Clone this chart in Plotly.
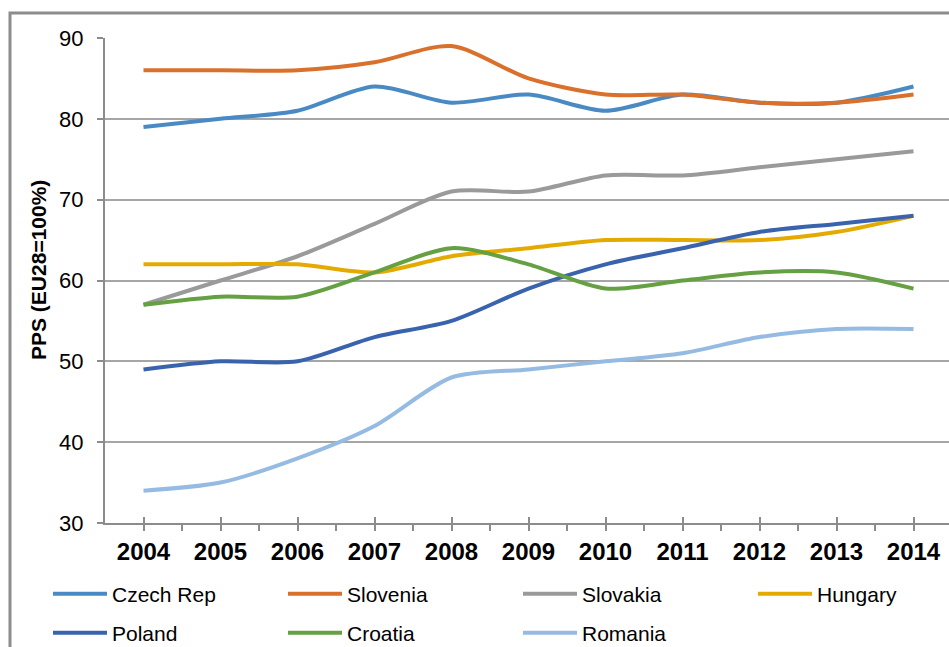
import plotly.graph_objects as go

years = [2004, 2005, 2006, 2007, 2008, 2009, 2010, 2011, 2012, 2013, 2014]
czech_rep = [79, 80, 81, 84, 82, 83, 81, 83, 82, 82, 84]
slovenia = [86, 86, 86, 87, 89, 85, 83, 83, 82, 82, 83]
slovakia = [57, 60, 63, 67, 71, 71, 73, 73, 74, 75, 76]
hungary = [62, 62, 62, 61, 63, 64, 65, 65, 65, 66, 68]
poland = [49, 50, 50, 53, 55, 59, 62, 64, 66, 67, 68]
croatia = [57, 58, 58, 61, 64, 62, 59, 60, 61, 61, 59]
romania = [34, 35, 38, 42, 48, 49, 50, 51, 53, 54, 54]

series = [
    ("Czech Rep", czech_rep, "#4a8ac4", "legend"),
    ("Slovenia", slovenia, "#d9702c", "legend"),
    ("Slovakia", slovakia, "#9a9a9a", "legend"),
    ("Hungary", hungary, "#e5aa00", "legend"),
    ("Poland", poland, "#3a63ae", "legend2"),
    ("Croatia", croatia, "#65a043", "legend2"),
    ("Romania", romania, "#96bbe2", "legend2"),
]

W, H = 949, 647
L, R, T, B = 105, 0, 38, 124
pw = W - L - R
ph = H - T - B

fig = go.Figure()
for name, vals, col, lg in series:
    fig.add_trace(go.Scatter(
        x=years, y=vals, name=name, mode="lines",
        line=dict(color=col, width=4, shape="spline", smoothing=0.8),
        legend=lg,
    ))

font_family = "Liberation Sans, Arial, sans-serif"
x0 = 2003.5
x1 = x0 + pw / 77.0


def px_x(px):
    return (px - L) / pw


def px_y(py):
    return (H - B - py) / ph


legend_common = dict(
    orientation="h", xanchor="left", yanchor="middle",
    entrywidth=166, entrywidthmode="pixels", itemwidth=54,
    font=dict(size=21, family=font_family, color="black"),
    bgcolor="rgba(0,0,0,0)", traceorder="normal",
)

fig.update_layout(
    width=W, height=H,
    margin=dict(l=L, r=R, t=T, b=B, pad=0, autoexpand=False),
    paper_bgcolor="white", plot_bgcolor="white",
    font=dict(family=font_family, color="black"),
    hovermode=False,
    xaxis=dict(
        range=[x0, x1], tickmode="array", tickvals=years, ticktext=[str(y) for y in years],
        showgrid=False, zeroline=False,
        showline=True, linecolor="#8c8c8c", linewidth=2,
        ticks="inside", ticklen=6, tickcolor="#8c8c8c", tickwidth=1.5,
        minor=dict(tick0=2003.5, dtick=0.5, ticks="outside", ticklen=6,
                   tickcolor="#8c8c8c", tickwidth=1.5, showgrid=False),
        tickfont=dict(size=24, family=font_family, color="black", weight="bold"),
        ticklabelstandoff=6,
        fixedrange=True, automargin=False,
    ),
    yaxis=dict(
        range=[30, 90], tickvals=[30, 40, 50, 60, 70, 80, 90],
        showgrid=True, gridcolor="#a6a6a6", gridwidth=1.5,
        zeroline=False,
        showline=True, linecolor="#8c8c8c", linewidth=2,
        ticks="outside", ticklen=6, tickcolor="#8c8c8c", tickwidth=1.5,
        tickfont=dict(size=22, family=font_family, color="black"),
        ticklabelstandoff=9,
        fixedrange=True, automargin=False,
    ),
    legend=dict(x=px_x(48), y=px_y(594), **legend_common),
    legend2=dict(x=px_x(48), y=px_y(633), **legend_common),
    showlegend=True,
)

# Y axis title
fig.add_annotation(
    text="<b>PPS (EU28=100%)</b>", textangle=-90,
    xref="paper", yref="paper", x=px_x(38), y=px_y(270),
    xanchor="center", yanchor="middle", showarrow=False,
    font=dict(size=21, family=font_family, color="black"),
)

# outer chart border
fig.add_shape(
    type="rect", xref="paper", yref="paper",
    x0=px_x(10), x1=px_x(W + 20),
    y0=px_y(H + 20), y1=px_y(13),
    line=dict(color="#8c8c8c", width=3), fillcolor="rgba(0,0,0,0)", layer="below",
)

fig.write_html("out.html", config={"displayModeBar": False, "staticPlot": False},
               post_script="document.body.style.margin='0';")
